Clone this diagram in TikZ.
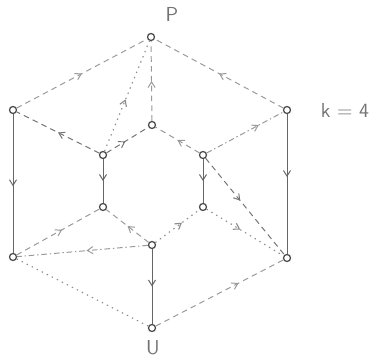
\documentclass[tikz,border=0pt]{standalone}
\usetikzlibrary{decorations.markings,arrows.meta}
\begin{document}
\begin{tikzpicture}[x=0.025cm,y=-0.025cm,
  vtx/.style={circle,draw=black!70,fill=white,line width=0.9pt,inner sep=0pt,minimum size=5pt},
  lbl/.style={text=black!55,font=\sffamily\Large},
  mid/.style={postaction={decorate},decoration={markings,mark=at position #1 with {\arrow{Straight Barb[length=4pt,width=5pt]}}}},
  mid/.default=0.5,
  sol/.style={draw=black!60,line width=0.7pt},
  dsh/.style={draw=black!40,line width=0.7pt,dash pattern=on 4pt off 3pt},
  dot/.style={draw=black!45,line width=0.8pt,dash pattern=on 1pt off 3pt},
  dd/.style={draw=black!40,line width=0.7pt,dash pattern=on 4pt off 2pt on 1pt off 2pt},
]
\useasboundingbox (0,0) rectangle (384,363);
% vertices
\node[vtx] (P)   at (151,37)  {};
\node[vtx] (L1)  at (13,110)  {};
\node[vtx] (R1)  at (287,110) {};
\node[vtx] (IT)  at (152,125) {};
\node[vtx] (IL1) at (103,155) {};
\node[vtx] (IR1) at (203,155) {};
\node[vtx] (IL2) at (103,207) {};
\node[vtx] (IR2) at (203,207) {};
\node[vtx] (IB)  at (152,245) {};
\node[vtx] (L2)  at (13,257)  {};
\node[vtx] (R2)  at (287,258) {};
\node[vtx] (U)   at (152,328) {};
% labels
\node[lbl] (lP) at (172,14) {P};
\node[lbl] (lU) at (153,348) {U};
\node[lbl] (lk) at (345,110) {k = 4};
% edges
\draw[dsh,mid=0.5] (L1) -- (P);
\draw[dsh,mid=0.5] (R1) -- (P);
\draw[dsh,mid=0.5] (IT) -- (P);
\draw[dot,mid=0.47] (IL1) -- (P);
\draw[dsh,draw=black!55,mid=0.5] (IL1) -- (L1);
\draw[dsh,draw=black!55,mid=0.45] (IL1) -- (IT);
\draw[dsh,mid=0.5] (IR1) -- (IT);
\draw[dd,mid=0.68] (IR1) -- (R1);
\draw[dsh,draw=black!55,mid=0.44] (IR1) -- (R2);
\draw[sol,mid=0.52] (L1) -- (L2);
\draw[sol,mid=0.45] (R1) -- (R2);
\draw[sol,mid=0.5] (IL1) -- (IL2);
\draw[sol,mid=0.5] (IR1) -- (IR2);
\draw[dsh,mid=0.5] (IB) -- (IL2);
\draw[dot,mid=0.6] (IB) -- (IR2);
\draw[dot,mid=0.44] (IR2) -- (R2);
\draw[dsh,mid=0.55] (L2) -- (IL2);
\draw[dd,mid=0.47] (IB) -- (L2);
\draw[sol,mid=0.5] (IB) -- (U);
\draw[dot] (L2) -- (U);
\draw[dsh,mid=0.65] (U) -- (R2);
\end{tikzpicture}
\end{document}
